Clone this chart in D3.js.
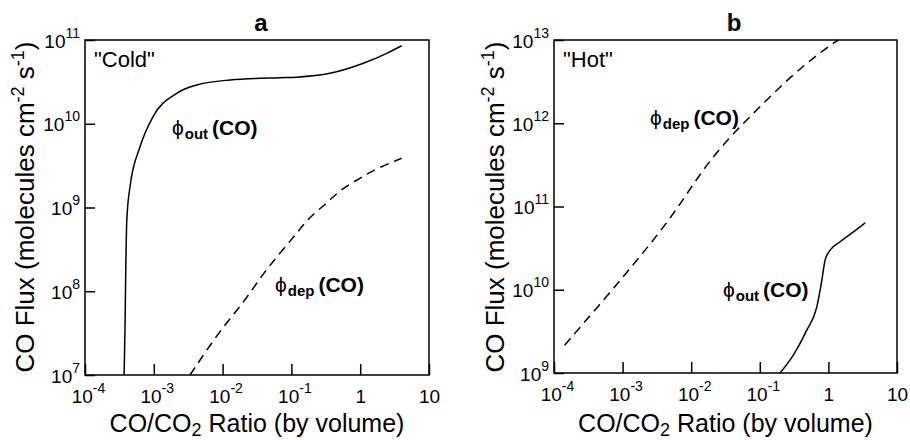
<!DOCTYPE html>
<html lang="en">
<head>
<meta charset="UTF-8">
<title>CO flux vs CO/CO2 ratio</title>
<script src="https://d3js.org/d3.v7.min.js"></script>
<style>
    body { margin: 0; background: #fff; }
    svg { display: block; font-family: "Liberation Sans", Arial, Helvetica, sans-serif; }
    .frame { fill: none; stroke: #000; stroke-width: 1.5; }
    .tick line { stroke: #000; stroke-width: 1.5; }
    .curve { fill: none; stroke: #000; stroke-width: 1.5; }
</style>
</head>
<body>
<div id="chart"></div>
<script>
// x axis ticks, shared by both panels
const xTicks = [1e-4, 1e-3, 1e-2, 1e-1, 1, 10];
const xTickLabels = [["10", "-4"], ["10", "-3"], ["10", "-2"], ["10", "-1"], ["1", ""], ["10", ""]];

// panel a, "Cold"
const coldYTicks = [1e7, 1e8, 1e9, 1e10, 1e11];
const coldYLabels = [["10", "7"], ["10", "8"], ["10", "9"], ["10", "10"], ["10", "11"]];
const coldOut = [
    [3.70e-4, 1e7], [3.81e-4, 3.4e7], [3.92e-4, 2.0e8], [4.05e-4, 7.0e8], [4.51e-4, 1.77e9],
    [6.30e-4, 5.3e9], [9.7e-4, 1.21e10], [2.15e-3, 2.31e10], [4.2e-3, 2.9e10],
    [1.28e-2, 3.33e10], [6.8e-2, 3.55e10], [0.119, 3.6e10], [0.364, 4.0e10],
    [1.11, 5.27e10], [2.43, 6.93e10], [4.0, 8.55e10]
];
const coldDep = [
    [3.36e-3, 1e7], [9.2e-3, 3.44e7], [2.0e-2, 7.2e7], [3.9e-2, 1.64e8], [6.8e-2, 2.84e8],
    [0.119, 4.9e8], [0.186, 7.8e8], [0.326, 1.12e9], [0.508, 1.62e9], [0.993, 2.23e9],
    [1.74, 2.94e9], [4.0, 3.87e9]
];

// panel b, "Hot"
const hotYTicks = [1e9, 1e10, 1e11, 1e12, 1e13];
const hotYLabels = [["10", "9"], ["10", "10"], ["10", "11"], ["10", "12"], ["10", "13"]];
const hotDep = [
    [1.43e-4, 2.16e9], [5.8e-4, 8.2e9], [1.78e-3, 2.48e10], [5.5e-3, 7.9e10], [1.34e-2, 2.5e11],
    [3.3e-2, 6.3e11], [9.0e-2, 1.44e12], [0.276, 3.62e12], [0.845, 7.6e12], [1.4, 1e13]
];
const hotOut = [
    [0.197, 1e9], [0.308, 1.64e9], [0.484, 3.27e9], [0.678, 6.24e9], [0.802, 1.3e10],
    [0.895, 2.27e10], [1.06, 2.99e10], [1.48, 3.77e10], [2.32, 4.97e10], [3.44, 6.37e10]
];

const W = 910, H = 440;
const svg = d3.select("#chart").append("svg")
    .attr("width", W)
    .attr("height", H);

function label(g, x, y, sub) {
    const t = g.append("text")
        .attr("x", x)
        .attr("y", y)
        .style("font-size", "21px");
    t.append("tspan").text("\u03D5").style("font-size", "21px");
    t.append("tspan").text(sub).attr("dy", 4).attr("dx", 1).style("font-size", "15px").style("font-weight", "bold");
    t.append("tspan").text("(CO)").attr("dy", -4).attr("dx", 4).style("font-weight", "bold");
}

function drawPanel(p) {
    const x = d3.scaleLog().domain([1e-4, 10]).range([p.left, p.right]);
    const y = d3.scaleLog().domain(p.yDomain).range([p.bottom, p.top]);
    const g = svg.append("g");

    // x ticks (inward) with superscript labels
    const xa = g.append("g")
        .attr("transform", `translate(0,${p.bottom})`)
        .call(d3.axisBottom(x).tickValues(xTicks).tickSizeInner(-11).tickSizeOuter(0));
    xa.select(".domain").remove();
    xa.selectAll("text").each(function(d, i) {
        const t = d3.select(this).text(null)
            .attr("y", 28).attr("dy", null)
            .attr("dx", xTickLabels[i][1] ? 3 : 0)
            .attr("fill", "#000")
            .style("font-size", "19px");
        t.append("tspan").text(xTickLabels[i][0]);
        if (xTickLabels[i][1]) t.append("tspan").text(xTickLabels[i][1]).attr("dy", -10).style("font-size", "14px");
    });

    // y ticks (inward)
    const ya = g.append("g")
        .attr("transform", `translate(${p.left},0)`)
        .call(d3.axisLeft(y).tickValues(p.yTicks).tickSizeInner(-10).tickSizeOuter(0));
    ya.select(".domain").remove();
    ya.selectAll("text").each(function(d, i) {
        const t = d3.select(this).text(null)
            .attr("x", -5).attr("dy", 7)
            .attr("fill", "#000")
            .style("font-size", "19px");
        t.append("tspan").text(p.yLabels[i][0]);
        t.append("tspan").text(p.yLabels[i][1]).attr("dy", -10).style("font-size", "14px");
    });

    g.append("rect").attr("class", "frame")
        .attr("x", p.left).attr("y", p.top)
        .attr("width", p.right - p.left).attr("height", p.bottom - p.top);

    const solid = d3.line()
        .x(d => x(d[0]))
        .y(d => y(d[1]))
        .curve(d3.curveMonotoneX);
    const smooth = d3.line()
        .x(d => x(d[0]))
        .y(d => y(d[1]))
        .curve(d3.curveBasis);

    g.append("path").datum(p.out).attr("class", "curve").attr("d", solid);
    g.append("path").datum(p.dep).attr("class", "curve")
        .attr("stroke-dasharray", "9,6").attr("d", smooth);

    // panel letter
    g.append("text").attr("x", p.letterX).attr("y", 31)
        .attr("text-anchor", "middle")
        .style("font-size", "24px").style("font-weight", "bold")
        .text(p.letter);

    g.append("text").attr("x", p.left + 9).attr("y", 67)
        .style("font-size", "22px")
        .text(p.regime);

    label(g, p.outPos[0], p.outPos[1], "out");
    label(g, p.depPos[0], p.depPos[1], "dep");

    // axis titles
    const xt = g.append("text")
        .attr("x", (p.left + p.right) / 2).attr("y", 432)
        .attr("text-anchor", "middle")
        .style("font-size", "25px");
    xt.append("tspan").text("CO/CO");
    xt.append("tspan").text("2").attr("dy", 4).style("font-size", "18px");
    xt.append("tspan").text(" Ratio (by volume)").attr("dy", -4);

    const yt = g.append("text")
        .attr("transform", `translate(${p.titleX},207) rotate(-90)`)
        .attr("text-anchor", "middle")
        .style("font-size", "26px");
    yt.append("tspan").text("CO Flux (molecules cm");
    yt.append("tspan").text("-2").attr("dy", -10).style("font-size", "18px");
    yt.append("tspan").text(" s").attr("dy", 10);
    yt.append("tspan").text("-1").attr("dy", -10).style("font-size", "18px");
    yt.append("tspan").text(")").attr("dy", 10);
}

drawPanel({
    left: 85, right: 429, top: 40, bottom: 375,
    yDomain: [1e7, 1e11], yTicks: coldYTicks, yLabels: coldYLabels,
    out: coldOut, dep: coldDep,
    letter: "a", letterX: 261, regime: "\"Cold\"",
    outPos: [172, 135], depPos: [275, 292], titleX: 34
});

drawPanel({
    left: 554, right: 897, top: 40, bottom: 373,
    yDomain: [1e9, 1e13], yTicks: hotYTicks, yLabels: hotYLabels,
    out: hotOut, dep: hotDep,
    letter: "b", letterX: 734, regime: "\"Hot\"",
    outPos: [723, 297], depPos: [650, 125], titleX: 504
});
</script>
</body>
</html>
